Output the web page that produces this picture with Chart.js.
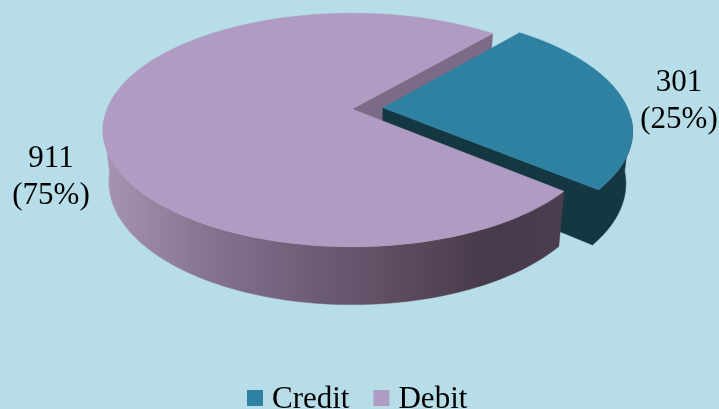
<!DOCTYPE html>
<html>
<head>
<meta charset="utf-8">
<title>Credit and debit</title>
<script src="https://cdn.jsdelivr.net/npm/chart.js@4/dist/chart.umd.js"></script>
<style>
  html, body { margin: 0; padding: 0; background: #b7dde8; }
  #wrap { position: relative; width: 719px; height: 409px; }
</style>
</head>
<body>
<div id="wrap"><canvas id="myChart"></canvas></div>
<script>
const categories = ["Credit", "Debit"]
const values = [301, 911]

const topColors = ["#2e81a0", "#b09cc3"]
const serif = "'Liberation Serif', 'Times New Roman', serif"

// screen size of the tilted disc, around the apex the library gives us
const RX = 245
const RY = 113
const TILT = 0.1795
const labelSpots = [{ x: 679, y: 91 }, { x: 51, y: 167 }]
const labelGap = 37

const project = (el, angle, r, off) => {
  const mid = (el.startAngle + el.endAngle) / 2
  const u = Math.cos(angle) * r + Math.cos(mid) * off
  const v = Math.sin(angle) * r + Math.sin(mid) * off
  const w = 1 - TILT * v
  return { x: el.x + (RX * u) / w, y: el.y + (RY * v) / w }
}

// the lower rim sits a bit narrower, and the drop grows toward the viewer
const drop = (el, p) => ({
  x: el.x + (p.x - el.x) * 0.976,
  y: p.y + 51 + (p.y - el.y) * 0.05,
})

const fillPoly = (ctx, pts, color) => {
  ctx.beginPath()
  pts.forEach((p, i) => (i ? ctx.lineTo(p.x, p.y) : ctx.moveTo(p.x, p.y)))
  ctx.closePath()
  ctx.fillStyle = color
  ctx.fill()
  ctx.strokeStyle = color
  ctx.lineWidth = 0.5
  ctx.stroke()
}

const rimOf = el => {
  const off = (el.options.offset || 0) / el.outerRadius
  const rim = []
  const front = []
  for (let i = 0; i <= 180; i++) {
    const a = el.startAngle + ((el.endAngle - el.startAngle) * i) / 180
    const p = project(el, a, 1, off)
    rim.push(p)
    if (Math.sin(a) > 0.1) front.push(p) // only the side facing the viewer
  }
  return { rim, front, apex: project(el, el.startAngle, 0, off) }
}

const pie3d = {
  id: "pie3d",
  beforeDatasetDraw(chart) {
    const ctx = chart.ctx
    const arcs = chart.getDatasetMeta(0).data
    const credit = rimOf(arcs[0])
    const debit = rimOf(arcs[1])

    const lower = (el, pts) => pts.map(p => drop(el, p)).reverse()
    const cut = [debit.apex, debit.rim[180], drop(arcs[1], debit.rim[180]), drop(arcs[1], debit.apex)]
    // credit's rim and its cut face go in one path so no seam shows between them
    const creditSide = [...credit.front, credit.apex, drop(arcs[0], credit.apex), ...lower(arcs[0], credit.front)]
    const debitSide = [...debit.front, ...lower(arcs[1], debit.front)]

    const shade = ctx.createLinearGradient(108, 0, 556, 0)
    shade.addColorStop(0, "#a593b1")
    shade.addColorStop(0.22, "#857490")
    shade.addColorStop(0.45, "#6e5d77")
    shade.addColorStop(0.68, "#5a495c")
    shade.addColorStop(0.84, "#473a4b")
    shade.addColorStop(1, "#4a3e4e")

    // back to front: debit's inner cut, then credit, then debit's rim and top
    fillPoly(ctx, cut, "#7c6b86")
    fillPoly(ctx, creditSide, "#143742")
    fillPoly(ctx, [credit.apex, ...credit.rim], topColors[0])
    fillPoly(ctx, debitSide, shade)
    fillPoly(ctx, [debit.apex, ...debit.rim], topColors[1])
    return false
  },
  afterDraw(chart) {
    const ctx = chart.ctx
    const total = values.reduce((a, b) => a + b, 0)
    ctx.save()
    ctx.fillStyle = "#000"
    ctx.textBaseline = "alphabetic"

    ctx.font = "31px " + serif
    ctx.textAlign = "center"
    values.forEach((v, i) => {
      const spot = labelSpots[i]
      ctx.fillText(String(v), spot.x, spot.y)
      ctx.fillText("(" + Math.round((v / total) * 100) + "%)", spot.x, spot.y + labelGap)
    })

    // legend, tighter swatch gap than the built-in one allows
    ctx.textAlign = "left"
    let x = 247
    categories.forEach((name, i) => {
      ctx.fillStyle = topColors[i]
      ctx.fillRect(x, 390, 16, 16)
      ctx.fillStyle = "#000"
      ctx.fillText(name, x + 25, 408)
      x += 25 + ctx.measureText(name).width + 24
    })
    ctx.restore()
  },
}

new Chart(document.getElementById("myChart"), {
  type: "pie",
  data: {
    labels: categories,
    datasets: [{ data: values, backgroundColor: topColors, borderWidth: 0, offset: [13, 0] }],
  },
  options: {
    responsive: true,
    maintainAspectRatio: false,
    animation: false,
    rotation: 40.7,
    layout: { padding: { left: 0, right: 15, top: 0, bottom: 191 } },
    plugins: { legend: { display: false }, tooltip: { enabled: false } },
  },
  plugins: [pie3d],
})
</script>
</body>
</html>
